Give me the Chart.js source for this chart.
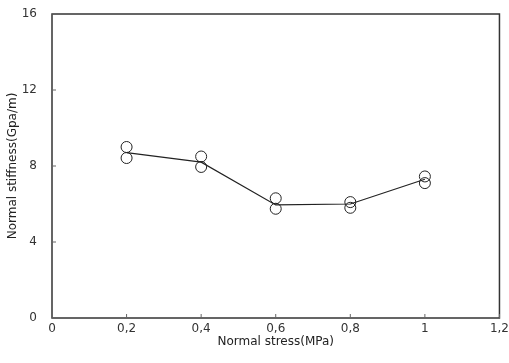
<!DOCTYPE html>
<html>
<head>
<meta charset="utf-8">
<script src="https://cdn.jsdelivr.net/npm/chart.js@4/dist/chart.umd.min.js"></script>
<style>
    html, body { margin: 0; padding: 0; background: #fff; }
    #wrap { width: 509px; height: 363px; position: relative; }
</style>
</head>
<body>
<div id="wrap"><canvas id="chart"></canvas></div>
<script>
// Normal stress (MPa) vs normal stiffness (GPa/m)
const stressLevels = [0.2, 0.4, 0.6, 0.8, 1.0];
const meanStiffness = [8.7, 8.2, 5.95, 6.0, 7.3];
const testA = [9.0, 8.5, 6.3, 6.1, 7.45];
const testB = [8.42, 7.95, 5.75, 5.8, 7.1];
const xTickLabels = ["0", "0,2", "0,4", "0,6", "0,8", "1", "1,2"];
const yTickLabels = ["0", "4", "8", "12", "16"];

const ink = "#333";
const fontSpec = { family: "DejaVu Sans", size: 12 };

// Frame around the plot area plus small inward tick marks
const framePlugin = {
    id: "frame",
    afterDraw(chart) {
        const { ctx, chartArea: a, scales } = chart;
        ctx.save();
        ctx.strokeStyle = ink;
        ctx.lineWidth = 1.5;
        ctx.strokeRect(a.left, a.top, a.right - a.left, a.bottom - a.top);
        ctx.lineWidth = 1;
        ctx.strokeStyle = "#666";
        scales.x.ticks.forEach((t) => {
            const px = scales.x.getPixelForValue(t.value);
            ctx.beginPath();
            ctx.moveTo(px, a.bottom);
            ctx.lineTo(px, a.bottom - 4);
            ctx.stroke();
        });
        scales.y.ticks.forEach((t) => {
            const py = scales.y.getPixelForValue(t.value);
            ctx.beginPath();
            ctx.moveTo(a.left, py);
            ctx.lineTo(a.left + 4, py);
            ctx.stroke();
        });
        ctx.restore();
    },
};

const toPoints = (ys) => stressLevels.map((x, i) => ({ x: x, y: ys[i] }));

new Chart(document.getElementById("chart"), {
    type: "scatter",
    data: {
        datasets: [
            {
                label: "Mean",
                data: toPoints(meanStiffness),
                showLine: true,
                borderColor: "#222",
                borderWidth: 1.2,
                pointRadius: 0,
                fill: false,
            },
            {
                label: "Test A",
                data: toPoints(testA),
                pointRadius: 5.5,
                pointBorderWidth: 1,
                pointBorderColor: "#222",
                pointBackgroundColor: "rgba(255,255,255,0)",
            },
            {
                label: "Test B",
                data: toPoints(testB),
                pointRadius: 5.5,
                pointBorderWidth: 1,
                pointBorderColor: "#222",
                pointBackgroundColor: "rgba(255,255,255,0)",
            },
        ],
    },
    options: {
        responsive: true,
        maintainAspectRatio: false,
        animation: false,
        layout: { padding: { top: 14, right: 9, left: 0, bottom: 0 } },
        plugins: {
            legend: { display: false },
            tooltip: { enabled: false },
        },
        scales: {
            x: {
                type: "linear",
                min: 0,
                max: 1.2,
                // tick marks themselves are drawn inward by the frame plugin;
                // tickLength here only spaces the labels from the axis
                grid: { display: false, drawTicks: true, tickLength: 4 },
                border: { display: false },
                ticks: {
                    stepSize: 0.2,
                    padding: 0,
                    color: ink,
                    font: fontSpec,
                    maxRotation: 0,
                    autoSkip: false,
                    callback: (val, i) => xTickLabels[i],
                },
                title: {
                    display: true,
                    text: "Normal stress(MPa)",
                    color: "#222",
                    font: fontSpec,
                    padding: { top: 0, bottom: 14 },
                },
                afterFit: (scale) => { scale.height = 45; },
            },
            y: {
                min: 0,
                max: 16,
                grid: { display: false, drawTicks: true, tickLength: 15 },
                border: { display: false },
                ticks: {
                    stepSize: 4,
                    padding: 0,
                    color: ink,
                    font: fontSpec,
                    callback: (val, i) => yTickLabels[i],
                },
                title: {
                    display: true,
                    text: "Normal stiffness(Gpa/m)",
                    color: "#222",
                    font: fontSpec,
                    padding: { top: 6, bottom: 0 },
                },
                afterFit: (scale) => { scale.width = 52; },
            },
        },
    },
    plugins: [framePlugin],
});
</script>
</body>
</html>
